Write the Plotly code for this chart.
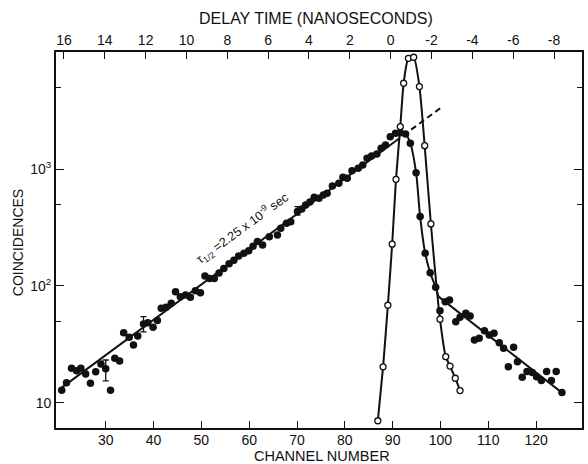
import plotly.graph_objects as go

# ---- data ----
filled_ch = [20.8, 21.8, 22.85, 23.9, 24.8, 25.8, 26.8, 27.9, 29.0, 30.0, 31.0, 31.9, 32.9, 33.75,
             34.9, 35.8, 36.7, 37.9, 38.8, 39.9, 40.8, 41.6, 42.6, 43.7, 44.6, 45.6, 46.7, 47.7,
             48.75, 49.8, 50.75, 51.7, 52.7, 53.7, 54.7, 55.8, 56.8, 57.8, 58.9, 59.9, 60.8, 61.7,
             62.8, 64.2, 65.9, 66.6, 67.8, 68.7, 70.1, 71.0, 71.8, 72.7, 73.6, 74.6, 75.5, 76.3,
             77.4, 78.75, 79.6, 80.5, 81.5, 82.8, 83.75, 84.65, 85.6, 86.7, 87.6, 88.5, 89.5,
             90.6, 91.6, 92.7, 93.7, 94.9, 95.75, 96.8, 97.85, 99.0, 99.9, 101.0, 101.9, 103.2,
             104.1, 105.3, 106.2, 107.1, 108.1, 109.2, 110.2, 111.2, 112.3, 113.2, 114.2, 115.3,
             116.1, 117.1, 118.1, 119.2, 120.1, 121.1, 122.2, 123.2, 124.2, 125.4]
filled_counts = [12.8, 14.8, 19.7, 18.8, 19.7, 17.6, 14.7, 18.4, 21.5, 19.5, 12.8, 24, 22.8, 39.8,
                 36.3, 31.2, 37.3, 47.2, 48.5, 44.3, 50.5, 64.4, 65.7, 71.1, 89.4, 81, 83.7, 80,
                 91.2, 87.7, 122, 116, 116, 129, 141, 155, 166, 181, 191, 200, 219, 240,
                 224, 264, 274, 312, 344, 356, 434, 457, 494, 525, 575, 564, 603, 622,
                 719, 759, 853, 838, 973, 1021, 1089, 1242, 1300, 1352, 1514, 1614, 1901,
                 2032, 2061, 2009, 1671, 935, 393, 191, 130, 97.5, 61.4, 73.3, 75.9, 49.4,
                 54, 58.3, 55.3, 34.4, 35.6, 41.4, 38, 39.4, 32.7, 29.2, 20.3, 29.9,
                 22.4, 16.5, 18.5, 18.1, 16.7, 15.5, 18.5, 15.5, 18.5, 12.2]
# error bars (channel -> +/-)
err_ch = [30.0, 37.9, 70.1]
err_plus = [3.7, 7.4, 44]
err_minus = [4.1, 6.7, 29]

open_ch = [86.9, 88.0, 89.0, 89.9, 90.7, 91.6, 92.3, 93.3, 94.4, 95.6, 96.7, 98.0, 99.9,
           101.1, 102.0, 103.1, 104.1]
open_counts = [7.0, 20.3, 68.4, 228, 820, 2317, 5460, 8930, 9120, 5110, 1592, 340, 51.9,
               24.8, 20.6, 16.2, 12.7]

fit_solid_ch = [20.3, 90.5]
fit_solid_counts = [13.0, 1730]
fit_dash_ch = [90.5, 100.1]
fit_dash_counts = [1730, 3370]

fall_ch = [89.5, 90.6, 91.6, 92.7, 93.7, 94.9, 95.75, 96.8, 97.85, 99.0, 99.6]
fall_counts = [1901, 2032, 2061, 2009, 1671, 935, 393, 191, 130, 97.5, 81]
tail_ch = [99.6, 125.4]
tail_counts = [81, 12.2]

channel_ticks = [30, 40, 50, 60, 70, 80, 90, 100, 110, 120]
delay_ticks = [16, 14, 12, 10, 8, 6, 4, 2, 0, -2, -4, -6, -8]
delay_labels = ["16", "14", "12", "10", "8", "6", "4", "2", "0", "-2", "-4", "-6", "-8"]
y_major = [10, 100, 1000]
y_major_labels = ["10", "10<sup>2</sup>", "10<sup>3</sup>"]
y_minor = [50, 500, 5000]

FONT = "Liberation Sans"
INK = "#111111"

eplus = [err_plus[err_ch.index(c)] if c in err_ch else 0 for c in filled_ch]
eminus = [err_minus[err_ch.index(c)] if c in err_ch else 0 for c in filled_ch]

fig = go.Figure()
fig.add_trace(go.Scatter(x=fit_solid_ch, y=fit_solid_counts, mode="lines",
                         line=dict(color=INK, width=2), hoverinfo="skip"))
fig.add_trace(go.Scatter(x=fit_dash_ch, y=fit_dash_counts, mode="lines",
                         line=dict(color=INK, width=2, dash="6px,4px"), hoverinfo="skip"))
fig.add_trace(go.Scatter(x=fall_ch, y=fall_counts, mode="lines",
                         line=dict(color=INK, width=2, shape="spline", smoothing=0.8), hoverinfo="skip"))
fig.add_trace(go.Scatter(x=tail_ch, y=tail_counts, mode="lines",
                         line=dict(color=INK, width=2), hoverinfo="skip"))
fig.add_trace(go.Scatter(x=open_ch, y=open_counts, mode="lines+markers",
                         line=dict(color=INK, width=2, shape="spline", smoothing=0.6),
                         marker=dict(symbol="circle", size=6, color="white",
                                     line=dict(color=INK, width=1.3))))
fig.add_trace(go.Scatter(x=filled_ch, y=filled_counts, mode="markers",
                         marker=dict(symbol="circle", size=7.5, color=INK),
                         error_y=dict(type="data", symmetric=False, array=eplus, arrayminus=eminus,
                                      color=INK, thickness=1.3, width=3)))
fig.add_trace(go.Scatter(x=delay_ticks, y=[None] * len(delay_ticks), xaxis="x2",
                         mode="markers", hoverinfo="skip"))

fig.update_layout(
    width=588, height=464,
    margin=dict(l=56, r=4, t=52, b=36),
    paper_bgcolor="white", plot_bgcolor="white",
    showlegend=False,
    font=dict(family=FONT, size=14, color=INK),
    xaxis=dict(range=[19.6, 129.6], tickvals=channel_ticks, ticks="inside", ticklen=7,
               tickwidth=1.3, tickcolor=INK, showline=True, linecolor=INK, linewidth=1.8,
               showgrid=False, zeroline=False, tickfont=dict(size=14), ticklabelstandoff=-2),
    xaxis2=dict(overlaying="x", side="top", range=[16.39, -9.37], tickvals=delay_ticks,
                ticktext=delay_labels, ticks="inside", ticklen=7, tickwidth=1.3, tickcolor=INK,
                showline=True, linecolor=INK, linewidth=1.8, showgrid=False, zeroline=False,
                tickfont=dict(size=14)),
    yaxis=dict(type="log", range=[0.783, 4.005], tickvals=y_major, ticktext=y_major_labels,
               ticks="inside", ticklen=8, tickwidth=1.3, tickcolor=INK,
               minor=dict(tickvals=y_minor, ticks="inside", ticklen=5, tickwidth=1.3, tickcolor=INK),
               showline=True, linecolor=INK, linewidth=1.8, mirror="ticks",
               showgrid=False, zeroline=False, tickfont=dict(size=14)),
    annotations=[
        dict(text="DELAY TIME (NANOSECONDS)", xref="paper", yref="paper", x=0.494, y=1.0904,
             xanchor="center", yanchor="middle", showarrow=False, font=dict(size=16)),
        dict(text="CHANNEL NUMBER", xref="paper", yref="paper", x=0.505, y=-0.0735,
             xanchor="center", yanchor="middle", showarrow=False, font=dict(size=14.5)),
        dict(text="COINCIDENCES", xref="paper", yref="paper", x=-0.072, y=0.492,
             xanchor="center", yanchor="middle", textangle=-90, showarrow=False,
             font=dict(size=14)),
        dict(text="τ<sub>1/2</sub> =2.25 x 10<sup>-9</sup> sec", x=58.6, y=2.50,
             xref="x", yref="y", xanchor="center", yanchor="middle", textangle=-36,
             showarrow=False, font=dict(size=12.5)),
    ],
)

fig.write_html("out.html", config={"displayModeBar": False},
               post_script="document.body.style.margin='0';")
